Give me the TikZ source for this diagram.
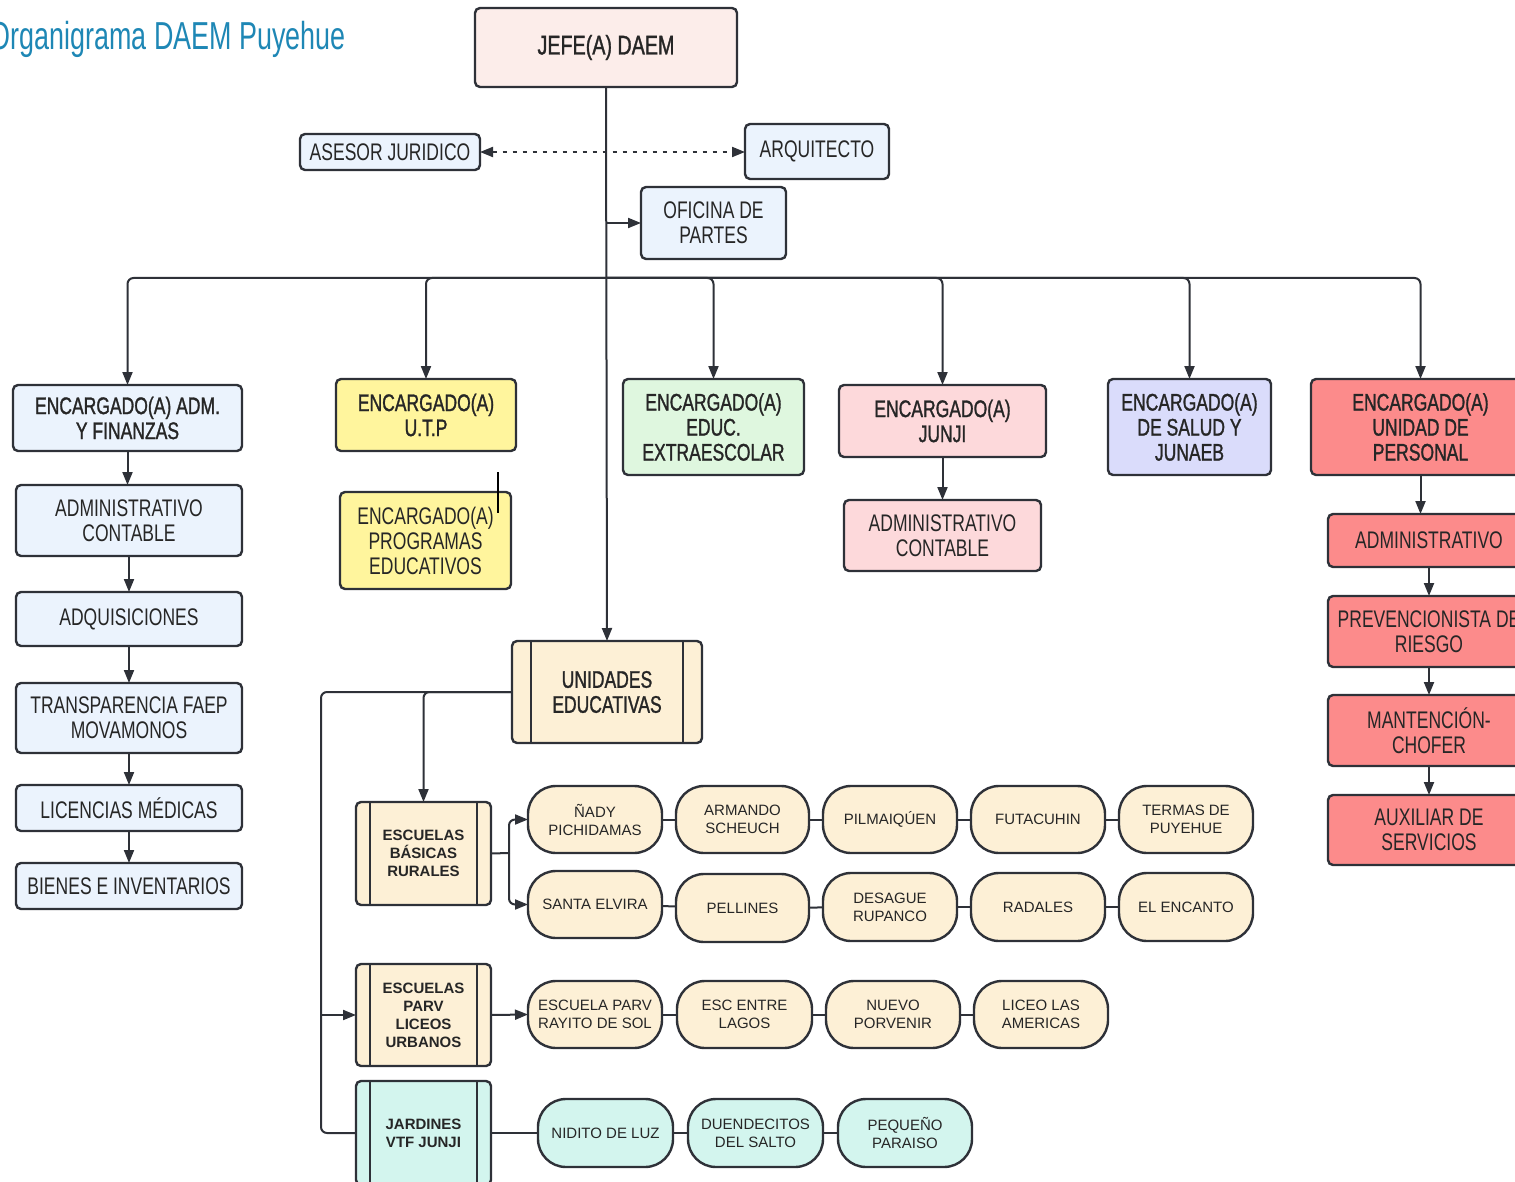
\documentclass[tikz,border=0pt]{standalone}
\usepackage{fontspec}
\usetikzlibrary{arrows.meta}
\newfontfamily\hand[FakeStretch=0.73]{Liberation Sans}
\newfontfamily\handb[FakeStretch=0.73,FakeBold=1.2]{Liberation Sans}
\newfontfamily\arial{Liberation Sans}
\newfontfamily\titlefont[FakeStretch=0.69]{Liberation Sans}
\definecolor{stroke}{HTML}{2E3138}
\definecolor{titleblue}{HTML}{1E87B5}
\definecolor{cjefe}{HTML}{FCEDEA}
\definecolor{cblue}{HTML}{EBF3FD}
\definecolor{cyellow}{HTML}{FFF59D}
\definecolor{cgreen}{HTML}{DFF7DF}
\definecolor{cpink}{HTML}{FDD9DB}
\definecolor{clav}{HTML}{DADCFB}
\definecolor{cred}{HTML}{FC8B8B}
\definecolor{ccream}{HTML}{FDF0D6}
\definecolor{cmint}{HTML}{D3F5EE}
\tikzset{
  base/.style={draw=stroke, line width=1.2pt, inner sep=0pt, outer sep=0pt, align=center, text=black!85},
  rbox/.style={base, rounded corners=2.5pt},
  thin/.style={rbox, font={\hand\fontsize{12}{12.5}\selectfont}},
  head/.style={rbox, font={\handb\fontsize{12}{12.5}\selectfont}},
  school/.style={rbox, font={\arial\bfseries\fontsize{7.5}{9}\selectfont}},
  oval/.style={base, rounded corners=14pt, fill=ccream, font={\arial\fontsize{7.5}{9}\selectfont}},
  conn/.style={draw=stroke, line width=1pt},
  arr/.style={conn, -{Triangle[length=6.5pt,width=5pt]}},
}
\newcommand\mybox[7]{\node[#6, minimum width={(#4-(#2))*0.5pt}, minimum height={(#5-(#3))*0.5pt}] (#1) at ({(#2+#4)/2},{(#3+#5)/2}) {#7};}
\newcommand\ppline[2]{\draw[conn, line width=1.2pt] ([xshift=#2]#1.north west) -- ([xshift=#2]#1.south west); \draw[conn, line width=1.2pt] ([xshift=-#2]#1.north east) -- ([xshift=-#2]#1.south east);}
\begin{document}
\begin{tikzpicture}[x=0.5pt, y=-0.5pt]
\useasboundingbox (0,0) rectangle (1515,1182);
% title
\node[anchor=base east, text=titleblue, font={\titlefont\fontsize{19.5}{20}\selectfont}, inner sep=0pt] (title) at (346,50) {Organigrama DAEM Puyehue};
% top
\mybox{jefe}{475}{8}{737}{87}{head, fill=cjefe, font={\handb\fontsize{13.5}{14}\selectfont}}{JEFE(A) DAEM}
\mybox{ases}{300}{134}{480}{170}{thin, fill=cblue}{ASESOR JURIDICO}
\mybox{arq}{745}{124}{889}{179}{thin, fill=cblue}{ARQUITECTO}
\mybox{ofi}{641}{187}{786}{259}{thin, fill=cblue}{OFICINA DE\\PARTES}
% level 2
\mybox{adm}{13}{385}{242}{451}{head, fill=cblue}{ENCARGADO(A) ADM.\\Y FINANZAS}
\mybox{utp}{336}{379}{516}{451}{head, fill=cyellow}{ENCARGADO(A)\\U.T.P}
\mybox{ext}{623}{379}{804}{475}{head, fill=cgreen}{ENCARGADO(A)\\EDUC.\\EXTRAESCOLAR}
\mybox{jun}{839}{385}{1046}{457}{head, fill=cpink}{ENCARGADO(A)\\JUNJI}
\mybox{sal}{1108}{379}{1271}{475}{head, fill=clav}{ENCARGADO(A)\\DE SALUD Y\\JUNAEB}
\mybox{per}{1311}{379}{1530}{475}{head, fill=cred}{ENCARGADO(A)\\UNIDAD DE\\PERSONAL}
% left column
\mybox{admc}{16}{485}{242}{556}{thin, fill=cblue}{ADMINISTRATIVO\\CONTABLE}
\mybox{adq}{16}{592}{242}{646}{thin, fill=cblue}{ADQUISICIONES}
\mybox{tra}{16}{683}{242}{753}{thin, fill=cblue}{TRANSPARENCIA FAEP\\MOVAMONOS}
\mybox{lic}{16}{785}{242}{831}{thin, fill=cblue}{LICENCIAS MÉDICAS}
\mybox{bie}{16}{863}{242}{909}{thin, fill=cblue}{BIENES E INVENTARIOS}
% utp child
\mybox{prog}{340}{492}{511}{589}{thin, fill=cyellow}{ENCARGADO(A)\\PROGRAMAS\\EDUCATIVOS}
\draw[line width=0.8pt] (498,472) -- (498,513);
% junji child
\mybox{junc}{844}{500}{1041}{571}{thin, fill=cpink}{ADMINISTRATIVO\\CONTABLE}
% personal column
\mybox{padm}{1328}{514}{1530}{567}{thin, fill=cred}{ADMINISTRATIVO}
\mybox{prev}{1328}{596}{1530}{667}{thin, fill=cred}{PREVENCIONISTA DE\\RIESGO}
\mybox{man}{1328}{695}{1530}{766}{thin, fill=cred}{MANTENCIÓN-\\CHOFER}
\mybox{aux}{1328}{795}{1530}{865}{thin, fill=cred}{AUXILIAR DE\\SERVICIOS}
% unidades
\mybox{unid}{512}{641}{702}{743}{head, fill=ccream}{UNIDADES\\EDUCATIVAS}
\ppline{unid}{9.5pt}
\mybox{eb}{356}{802}{491}{905}{school, fill=ccream}{ESCUELAS\\BÁSICAS\\RURALES}
\ppline{eb}{7pt}
\mybox{ep}{356}{964}{491}{1066}{school, fill=ccream}{ESCUELAS\\PARV\\LICEOS\\URBANOS}
\ppline{ep}{7pt}
\mybox{jard}{356}{1081}{491}{1185}{school, fill=cmint}{JARDINES\\VTF JUNJI}
\ppline{jard}{7pt}
% ovals row 1
\mybox{o11}{528}{786}{662}{853}{oval}{ÑADY\\PICHIDAMAS}
\mybox{o12}{676}{786}{809}{853}{oval}{ARMANDO\\SCHEUCH}
\mybox{o13}{823}{786}{957}{853}{oval}{PILMAIQÚEN}
\mybox{o14}{971}{786}{1105}{853}{oval}{FUTACUHIN}
\mybox{o15}{1119}{786}{1253}{853}{oval}{TERMAS DE\\PUYEHUE}
% row 2
\mybox{o21}{528}{871}{662}{938}{oval}{SANTA ELVIRA}
\mybox{o22}{676}{874}{809}{942}{oval}{PELLINES}
\mybox{o23}{823}{873}{957}{941}{oval}{DESAGUE\\RUPANCO}
\mybox{o24}{971}{873}{1105}{941}{oval}{RADALES}
\mybox{o25}{1119}{873}{1253}{941}{oval}{EL ENCANTO}
% row 3
\mybox{o31}{528}{981}{662}{1048}{oval}{ESCUELA PARV\\RAYITO DE SOL}
\mybox{o32}{677}{981}{812}{1048}{oval}{ESC ENTRE\\LAGOS}
\mybox{o33}{826}{981}{960}{1048}{oval}{NUEVO\\PORVENIR}
\mybox{o34}{974}{981}{1108}{1048}{oval}{LICEO LAS\\AMERICAS}
% row 4
\mybox{o41}{538}{1099}{673}{1167}{oval, fill=cmint}{NIDITO DE LUZ}
\mybox{o42}{688}{1099}{823}{1167}{oval, fill=cmint}{DUENDECITOS\\DEL SALTO}
\mybox{o43}{838}{1099}{972}{1167}{oval, fill=cmint}{PEQUEÑO\\PARAISO}
% connectors top
\coordinate (bus) at (606,278);
\coordinate (ofin) at (606,223);
\draw[arr] (jefe.south) -- (unid.north);
\draw[arr] (ofin) -- (ofi.west);
\draw[conn, dash pattern=on 2pt off 3pt, {Triangle[length=6.5pt,width=5pt]}-{Triangle[length=6.5pt,width=5pt]}] (ases.east) -- (ases.east -| arq.west);
\foreach \n in {adm,utp,ext,jun,sal,per} {\draw[arr, rounded corners=3pt] (bus) -| (\n.north);}
% left chain
\draw[arr] (adm.south) -- (adm.south |- admc.north);
\draw[arr] (admc) -- (adq);
\draw[arr] (adq) -- (tra);
\draw[arr] (tra) -- (lic);
\draw[arr] (lic) -- (bie);
\draw[arr] (jun) -- (junc);
\draw[arr] (per.south) -- (per.south |- padm.north);
\draw[arr] (padm) -- (prev);
\draw[arr] (prev) -- (man);
\draw[arr] (man) -- (aux);
% unidades tree
\coordinate (trunk) at (321,692);
\draw[conn, rounded corners=3pt] (unid.west) -- (trunk) |- (jard.west);
\draw[arr, rounded corners=3pt] (unid.west) -| (eb.north);
\draw[arr] (trunk |- ep.west) -- (ep.west);
\coordinate (split) at (509,853);
\draw[conn] (eb.east) -- (split);
\draw[arr, rounded corners=3pt] (split) |- (o11.west);
\draw[arr, rounded corners=3pt] (split) |- (o21.west);
\draw[arr] (ep.east) -- (o31.west);
\draw[conn] (jard.east) -- (o41.west);
\draw[conn] (o11) -- (o12); \draw[conn] (o12) -- (o13); \draw[conn] (o13) -- (o14); \draw[conn] (o14) -- (o15);
\draw[conn] (o21) -- (o22); \draw[conn] (o22) -- (o23); \draw[conn] (o23) -- (o24); \draw[conn] (o24) -- (o25);
\draw[conn] (o31) -- (o32); \draw[conn] (o32) -- (o33); \draw[conn] (o33) -- (o34);
\draw[conn] (o41) -- (o42); \draw[conn] (o42) -- (o43);
\end{tikzpicture}
\end{document}
